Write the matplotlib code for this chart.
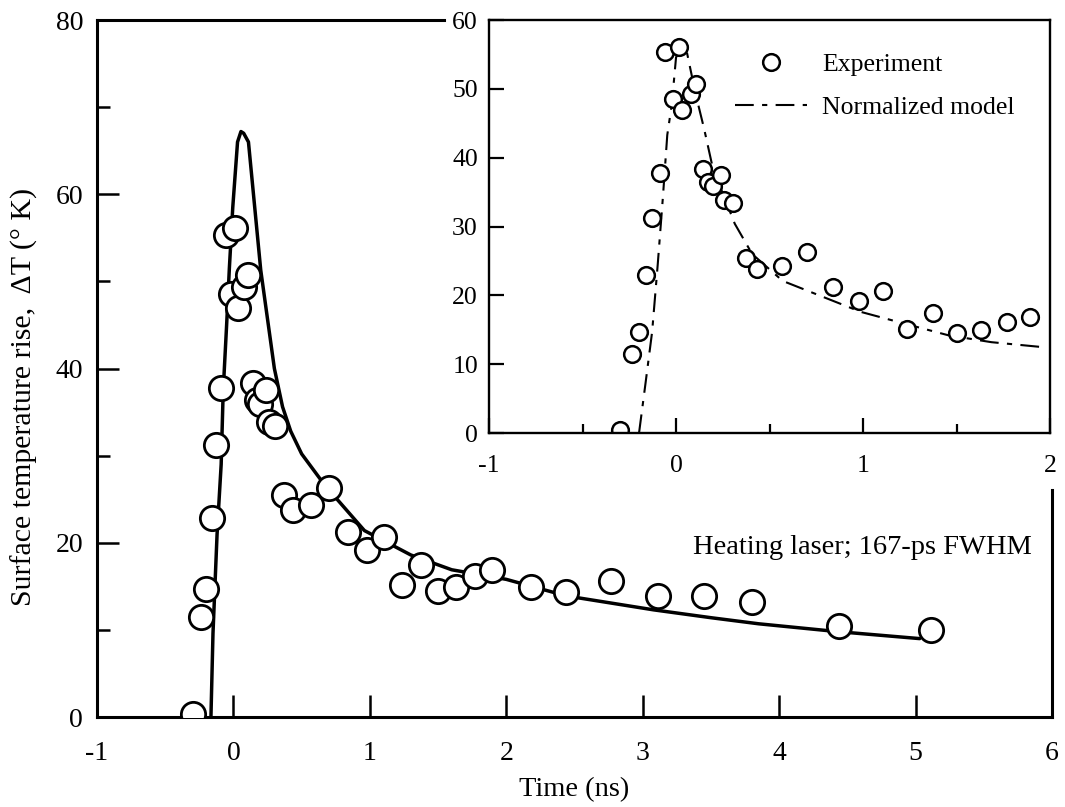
import numpy as np
import matplotlib
matplotlib.use('Agg')
import matplotlib.pyplot as plt
from matplotlib.lines import Line2D

plt.rcParams['font.family'] = ['Liberation Serif', 'DejaVu Serif']

# Experimental points (same data in both panels)
exp_t = [-0.30, -0.237, -0.198, -0.160, -0.126, -0.088, -0.058, -0.016, 0.014, 0.033,
         0.081, 0.105, 0.144, 0.170, 0.198, 0.242, 0.258, 0.302, 0.374, 0.435,
         0.565, 0.702, 0.837, 0.977, 1.105, 1.237, 1.372, 1.50, 1.63, 1.77,
         1.895, 2.18, 2.44, 2.77, 3.11, 3.45, 3.80, 4.44, 5.11]
exp_dT = [0.4, 11.5, 14.7, 22.9, 31.2, 37.8, 55.3, 48.5, 56.1, 46.9,
          49.3, 50.7, 38.3, 36.4, 35.9, 37.5, 33.9, 33.4, 25.5, 23.8,
          24.3, 26.3, 21.2, 19.2, 20.7, 15.1, 17.4, 14.5, 14.9, 16.2,
          16.9, 14.9, 14.4, 15.6, 13.9, 13.9, 13.2, 10.4, 10.0]

# Full model (main panel)
model_t = [-0.165, -0.15, -0.12, -0.09, -0.075, -0.05, -0.03, -0.005, 0.03, 0.055,
           0.075, 0.11, 0.2, 0.30, 0.36, 0.42, 0.50, 0.67, 0.96, 1.3, 1.6,
           2.0, 2.44, 3.08, 3.5, 3.85, 4.43, 5.03]
model_dT = [0, 9.6, 21, 29, 37.5, 45, 51.5, 58.5, 66, 67.2,
            67, 66, 51.3, 40.0, 35.6, 32.8, 30.2, 26.6, 21.4, 18.6, 16.9,
            15.8, 13.9, 12.3, 11.4, 10.7, 9.8, 9.0]

# Normalized model (inset)
norm_t = [-0.198, -0.163, -0.128, -0.098, -0.07, -0.047, -0.023, 0.0, 0.03, 0.058,
          0.105, 0.15, 0.198, 0.256, 0.314, 0.407, 0.57, 0.756, 0.988, 1.22,
          1.456, 1.686, 1.953]
norm_dT = [0, 7.3, 14.7, 24.5, 34.4, 43.3, 47.7, 54.6, 55.6, 55.3,
           49.2, 44.2, 38.3, 34.4, 30.4, 26.0, 22.1, 20.1, 17.6, 15.9,
           14.2, 13.2, 12.5]

fig = plt.figure(figsize=(10.65, 8.07), dpi=100)

# main panel
ax = fig.add_axes([0.0911, 0.1115, 0.8967, 0.8637])
ax.plot(model_t, model_dT, color='black', lw=2.5, solid_joinstyle='round',
        solid_capstyle='round', zorder=2)
ax.plot(exp_t, exp_dT, 'o', ms=17.5, mfc='white', mec='black', mew=2.0, zorder=3)
ax.set_xlim(-1, 6)
ax.set_ylim(0, 80)
ax.set_xticks([-1, 0, 1, 2, 3, 4, 5, 6])
ax.set_xticklabels(['-1', '0', '1', '2', '3', '4', '5', '6'])
ax.set_yticks([0, 20, 40, 60, 80])
ax.set_yticks([10, 30, 50, 70], minor=True)
ax.tick_params(axis='both', which='major', direction='in', length=16, width=1.8,
               labelsize=20)
ax.tick_params(axis='y', which='major', pad=10)
ax.tick_params(axis='y', which='minor', direction='in', length=9.5, width=1.8)
ax.tick_params(axis='x', which='major', pad=17)
for s in ax.spines.values():
    s.set_linewidth(2.2)
ax.spines['top'].set_bounds(-1, 1.54)
ax.spines['right'].set_bounds(0, 26)
ax.set_xlabel('Time (ns)', fontsize=20.5, labelpad=8)
ax.set_ylabel('Surface temperature rise,  \u0394T (\u00b0 K)', fontsize=21.5)
ax.yaxis.set_label_coords(-0.062, 0.459)
ax.text(5.85, 19.4, 'Heating laser; 167-ps FWHM', fontsize=20.5, ha='right', va='center')

# inset panel
ins = fig.add_axes([0.4592, 0.4634, 0.5268, 0.5118])
ins.plot(norm_t, norm_dT, color='black', lw=1.5, dashes=(9, 4, 2.5, 4))
ins.plot(exp_t, exp_dT, 'o', ms=12, mfc='white', mec='black', mew=1.8)
ins.set_xlim(-1, 2)
ins.set_ylim(0, 60)
ins.set_xticks([-1, 0, 1, 2])
ins.set_xticklabels(['-1', '0', '1', '2'])
ins.set_xticks([-0.5, 0.5, 1.5], minor=True)
ins.set_yticks([0, 10, 20, 30, 40, 50, 60])
ins.tick_params(axis='both', which='major', direction='in', length=10.5, width=1.6,
                labelsize=18.5)
ins.tick_params(axis='y', which='major', pad=8)
ins.tick_params(axis='x', which='major', pad=16)
ins.tick_params(axis='x', which='minor', direction='in', length=6.5, width=1.6)
for s in ins.spines.values():
    s.set_linewidth(1.7)

handles = [Line2D([], [], ls='none', marker='o', ms=12, mfc='white', mec='black', mew=1.8),
           Line2D([], [], color='black', lw=1.5, dashes=(9, 4, 2.5, 4))]
ins.legend(handles, ['Experiment', 'Normalized model'], loc='upper left',
           bbox_to_anchor=(0.415, 0.952), frameon=False, fontsize=18.5,
           handlelength=2.8, handletextpad=0.6, labelspacing=0.8, borderpad=0)

fig.savefig('out.png', dpi=100)
